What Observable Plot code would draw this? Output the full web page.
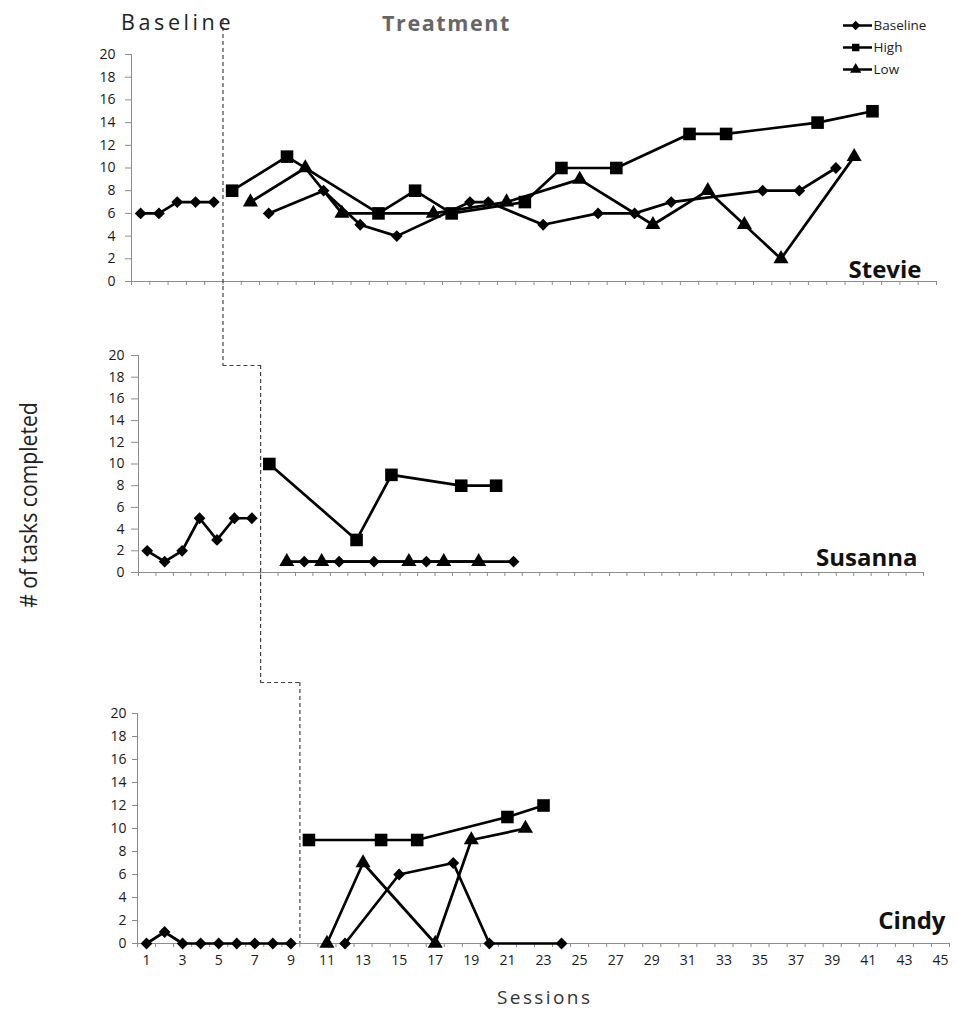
<!DOCTYPE html>
<html>
<head>
<meta charset="utf-8">
<script src="https://cdn.jsdelivr.net/npm/d3@7"></script>
<script src="https://cdn.jsdelivr.net/npm/@observablehq/plot@0.6"></script>
<style>
  body { margin: 0; background: #fff; }
  #fig { position: relative; width: 956px; height: 1025px; font-family: "Open Sans", sans-serif; background: #fff; }
  .abs { position: absolute; }
  svg { overflow: visible; }
</style>
</head>
<body>
<div id="fig"></div>
<script>
// ---------- DATA ([session, tasks completed]) ----------
const seriesNames = ["Baseline", "High", "Low"];
const yTicks = [0, 2, 4, 6, 8, 10, 12, 14, 16, 18, 20];
const cindyTickLabels = [1, 3, 5, 7, 9, 11, 13, 15, 17, 19, 21, 23, 25, 27, 29, 31, 33, 35, 37, 39, 41, 43, 45];

const stevieBaselinePhase = [[1,6],[2,6],[3,7],[4,7],[5,7]];
const stevieBaseline = [[8,6],[11,8],[13,5],[15,4],[19,7],[20,7],[23,5],[26,6],[28,6],[30,7],[35,8],[37,8],[39,10]];
const stevieHigh = [[6,8],[9,11],[14,6],[16,8],[18,6],[22,7],[24,10],[27,10],[31,13],[33,13],[38,14],[41,15]];
const stevieLow = [[7,7],[10,10],[12,6],[17,6],[21,7],[25,9],[29,5],[32,8],[34,5],[36,2],[40,11]];

const susannaBaselinePhase = [[1,2],[2,1],[3,2],[4,5],[5,3],[6,5],[7,5]];
const susannaBaseline = [[10,1],[12,1],[14,1],[17,1],[22,1]];
const susannaHigh = [[8,10],[13,3],[15,9],[19,8],[21,8]];
const susannaLow = [[9,1],[11,1],[16,1],[18,1],[20,1]];

const cindyBaselinePhase = [[1,0],[2,1],[3,0],[4,0],[5,0],[6,0],[7,0],[8,0],[9,0]];
const cindyBaseline = [[12,0],[15,6],[18,7],[20,0],[24,0]];
const cindyHigh = [[10,9],[14,9],[16,9],[21,11],[23,12]];
const cindyLow = [[11,0],[13,7],[17,0],[19,9],[22,10]];

// ---------- LAYOUT ----------
const W = 956;
const AXIS = "#8c8c8c";
const PHASE = "#444";
const fig = document.getElementById("fig");

function place(node, left, top) {
  const d = document.createElement("div");
  d.className = "abs";
  d.style.left = left + "px";
  d.style.top = top + "px";
  d.appendChild(node);
  fig.appendChild(d);
  return d;
}

const panels = [
  {name: "Stevie", n: 44, top: 0, height: 300, ml: 131, mr: 20, mt: 54, mb: 19,
   tickSize: 6, tickPad: 10, nameDx: -15, nameDy: -4,
   phaseSeries: stevieBaselinePhase, baseline: stevieBaseline, high: stevieHigh, low: stevieLow,
   vTop: -34, vBottom: -84, labels: false},
  {name: "Susanna", n: 45, top: 330, height: 270, ml: 138, mr: 33, mt: 25, mb: 28,
   tickSize: 7, tickPad: 7, nameDx: -6, nameDy: -7,
   phaseSeries: susannaBaselinePhase, baseline: susannaBaseline, high: susannaHigh, low: susannaLow,
   vTop: 10, vBottom: -110, labels: false},
  {name: "Cindy", n: 45, top: 680, height: 300, ml: 137, mr: 7, mt: 33, mb: 37,
   tickSize: 5, tickPad: 6, nameDx: -4, nameDy: -15,
   phaseSeries: cindyBaselinePhase, baseline: cindyBaseline, high: cindyHigh, low: cindyLow,
   vTop: -31, vBottom: 0, labels: true}
];

// phase boundaries and x scales (for joining the staircase phase line)
panels.forEach(p => {
  p.phase = d3.max(p.phaseSeries, d => d[0]) + 0.5;
  p.xs = d3.scaleLinear().domain([0.5, p.n + 0.5]).range([p.ml, W - p.mr]);
});

const lineStyle = {stroke: "black", strokeWidth: 2.7, strokeLinejoin: "round"};
const px = d => d[0], py = d => d[1];
const tickText = {fontSize: 14, fill: "#1a1a1a", letterSpacing: "1.4px"};

panels.forEach((p, i) => {
  const boundaries = d3.range(0.5, p.n + 1, 1);
  const marks = [
    Plot.ruleY([0], {stroke: AXIS, strokeWidth: 1}),
    Plot.ruleX([0.5], {stroke: AXIS, strokeWidth: 1}),
    Plot.axisY({ticks: yTicks, tickSize: p.tickSize, tickPadding: p.tickPad,
                stroke: AXIS, label: null, ...tickText}),
    Plot.axisX({ticks: boundaries, tickSize: 4, tickPadding: 0, tickFormat: () => "",
                stroke: AXIS, label: null})
  ];
  if (p.labels) {
    marks.push(Plot.axisX({ticks: cindyTickLabels, tickSize: 0, tickPadding: 12,
                           label: null, ...tickText}));
  }
  // phase change line (dashed staircase)
  marks.push(Plot.ruleX([p.phase], {stroke: PHASE, strokeWidth: 1.2, strokeDasharray: "4,3",
                                    insetTop: p.vTop, insetBottom: p.vBottom}));
  if (i > 0) {
    const prev = panels[i - 1];
    const from = p.xs.invert(prev.xs(prev.phase));
    marks.push(Plot.ruleY([{y: 20, a: from, b: p.phase}],
      {y: "y", x1: "a", x2: "b", dy: p.vTop, stroke: PHASE, strokeWidth: 1.2, strokeDasharray: "4,3"}));
  }
  // series
  const groups = [
    [p.phaseSeries, "diamond2", 5.3],
    [p.baseline, "diamond2", 5.3],
    [p.high, "square", 7.1],
    [p.low, "triangle", 5.6]
  ];
  groups.forEach(([data]) => marks.push(Plot.line(data, {x: px, y: py, ...lineStyle})));
  groups.forEach(([data, sym, r]) => marks.push(Plot.dot(data, {x: px, y: py, symbol: sym, r, fill: "black", stroke: "none"})));
  // participant name
  marks.push(Plot.text([p.name], {frameAnchor: "bottom-right", text: d => d, textAnchor: "end",
    lineAnchor: "bottom", dx: p.nameDx, dy: p.nameDy, fontSize: 24, fontWeight: "bold",
    letterSpacing: "0.3px", fill: "#111"}));

  const chart = Plot.plot({
    width: W, height: p.height,
    marginLeft: p.ml, marginRight: p.mr, marginTop: p.mt, marginBottom: p.mb,
    x: {domain: [0.5, p.n + 0.5]},
    y: {domain: [0, 20]},
    style: {background: "transparent", overflow: "visible", fontFamily: "'Open Sans', sans-serif", fontSize: "14px"},
    marks
  });
  place(chart, 0, p.top);
});

// ---------- LEGEND ----------
const legendSymbols = ["diamond2", "square", "triangle"];
const legend = Plot.plot({
  width: 121, height: 72, marginLeft: 8, marginRight: 84, marginTop: 14, marginBottom: 13,
  x: {domain: [0, 1], axis: null},
  y: {type: "point", domain: seriesNames, padding: 0, axis: null},
  symbol: {domain: seriesNames, range: legendSymbols},
  style: {background: "transparent", overflow: "visible", fontFamily: "'Open Sans', sans-serif"},
  marks: [
    Plot.ruleY(seriesNames, {y: d => d, x1: 0, x2: 1, stroke: "black", strokeWidth: 2.5}),
    Plot.dot(seriesNames, {y: d => d, x: 0.42, symbol: d => d, r: 4.2, fill: "black", stroke: "none"}),
    Plot.text(seriesNames, {y: d => d, x: 1, text: d => d, textAnchor: "start", dx: 1,
                            fontSize: 13.5, fill: "#222", letterSpacing: "1.4px"})
  ]
});
place(legend, 835, 10);

// ---------- TEXT ----------
function label(text, style) {
  const d = document.createElement("div");
  d.className = "abs";
  d.textContent = text;
  Object.assign(d.style, style);
  fig.appendChild(d);
  return d;
}
label("Baseline", {left: "121px", top: "7px", fontSize: "21.5px", letterSpacing: "3.6px", color: "#222"});
label("Treatment", {left: "382px", top: "8px", fontSize: "21.5px", fontWeight: "bold", letterSpacing: "1.6px", color: "#666"});
label("Sessions", {left: "497px", top: "984px", fontSize: "19px", letterSpacing: "2.4px", color: "#333"});
label("# of tasks completed", {left: "28px", top: "505px", fontSize: "23px", color: "#222",
  whiteSpace: "nowrap", transform: "translate(-50%, -50%) rotate(-90deg) scaleX(0.92)", transformOrigin: "center"});
</script>
</body>
</html>
